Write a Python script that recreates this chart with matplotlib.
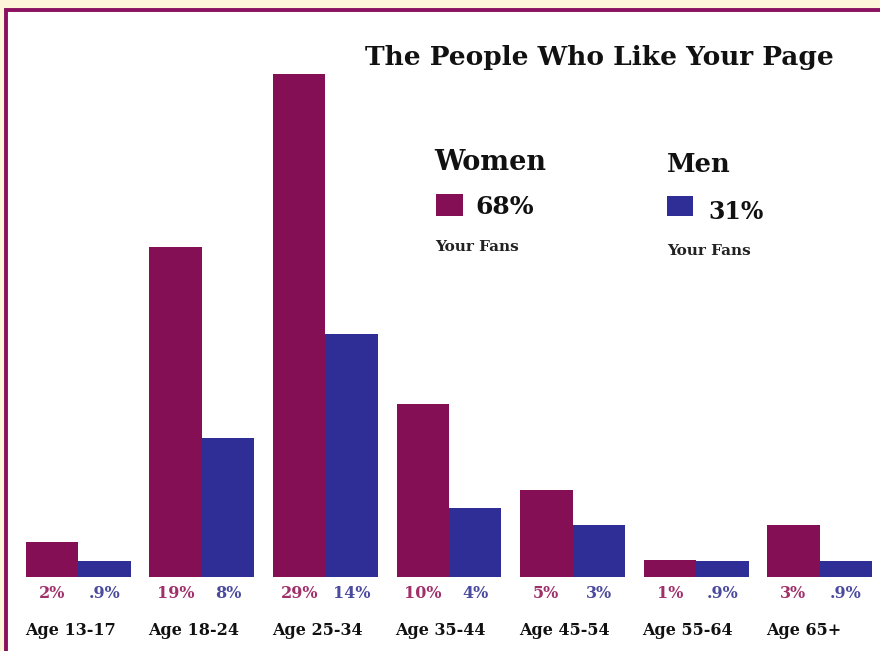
import matplotlib
matplotlib.use('Agg')
import matplotlib.pyplot as plt
from matplotlib.patches import Rectangle
import numpy as np

ages = ['Age 13-17', 'Age 18-24', 'Age 25-34', 'Age 35-44', 'Age 45-54', 'Age 55-64', 'Age 65+']
women = [2, 19, 29, 10, 5, 1, 3]
men = [0.9, 8, 14, 4, 3, 0.9, 0.9]
women_labels = ['2%', '19%', '29%', '10%', '5%', '1%', '3%']
men_labels = ['.9%', '8%', '14%', '4%', '3%', '.9%', '.9%']

W, H = 880, 651
c_women = '#850f55'
c_men = '#2e2e96'
c_women_txt = '#a0306a'
c_men_txt = '#4a4a9e'
serif = 'DejaVu Serif'

fig = plt.figure(figsize=(W / 100, H / 100), dpi=100)
fig.patch.set_facecolor('#fdf6d8')

# white panel with purple frame
fig.patches.append(Rectangle((6 / W, -0.05), 1.1, 1 - 10 / H + 0.05,
                             transform=fig.transFigure, facecolor='white',
                             edgecolor='#8a1060', linewidth=2.8, zorder=-10))

x0, x1 = -0.45, 6.45
ax = fig.add_axes([22.9 / W, (H - 577) / H, 852.2 / W, 520.5 / H])
ax.set_zorder(5)
ax.set_xlim(x0, x1)
ax.set_ylim(0, 30)
ax.axis('off')

x = np.arange(len(ages))
bw = 0.425
ax.bar(x - bw / 2, women, bw, color=c_women)
ax.bar(x + bw / 2, men, bw, color=c_men)

tr = ax.get_xaxis_transform()
for i in range(len(ages)):
    ax.text(x[i] - bw / 2, -0.031, women_labels[i], transform=tr, ha='center', va='center',
            fontsize=11.5, fontweight='bold', color=c_women_txt, family=serif, clip_on=False)
    ax.text(x[i] + bw / 2, -0.031, men_labels[i], transform=tr, ha='center', va='center',
            fontsize=11.5, fontweight='bold', color=c_men_txt, family=serif, clip_on=False)
    ax.text(x[i] - bw - 0.01, -0.102, ages[i], transform=tr, ha='left', va='center',
            fontsize=11.5, fontweight='bold', color='#111111', family=serif, clip_on=False)


def ftext(px, py, s, **kw):
    fig.text(px / W, 1 - py / H, s, family=serif, fontweight='bold', **kw)


ftext(365, 57, 'The People Who Like Your Page', fontsize=19, va='center', color='#111111')
ftext(434, 162, 'Women', fontsize=19.5, va='center', color='#111111')
ftext(667, 165, 'Men', fontsize=18.5, va='center', color='#111111')
ftext(475, 207, '68%', fontsize=18, va='center', color='#111111')
ftext(708, 212, '31%', fontsize=17, va='center', color='#111111')
ftext(435, 247, 'Your Fans', fontsize=11, va='center', color='#222222')
ftext(667, 251, 'Your Fans', fontsize=11, va='center', color='#222222')

fig.patches.append(Rectangle((436 / W, 1 - 216 / H), 27 / W, 22 / H,
                             transform=fig.transFigure, facecolor=c_women, edgecolor='none'))
fig.patches.append(Rectangle((667 / W, 1 - 216 / H), 26 / W, 20 / H,
                             transform=fig.transFigure, facecolor=c_men, edgecolor='none'))

fig.savefig('out.png', dpi=100, facecolor=fig.get_facecolor())
